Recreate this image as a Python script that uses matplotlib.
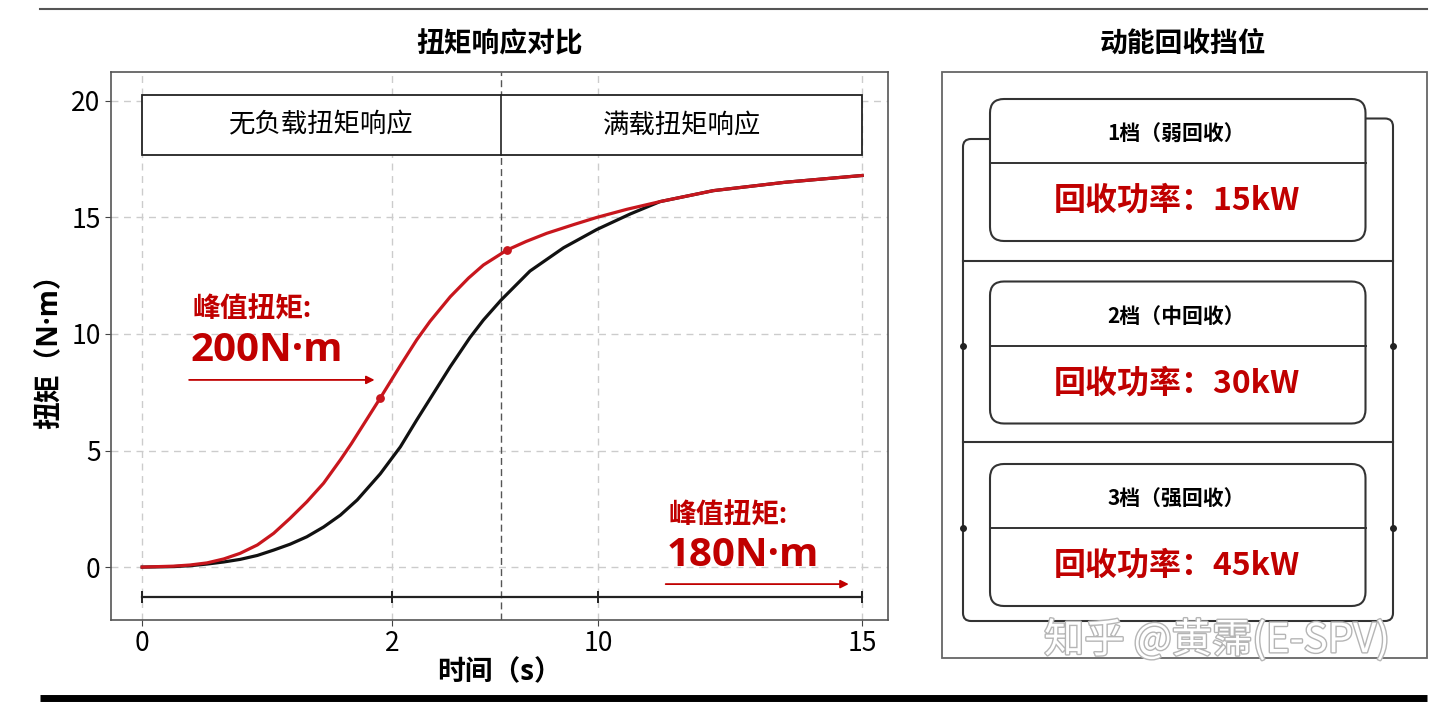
import numpy as np
import matplotlib
matplotlib.use("Agg")
import matplotlib.pyplot as plt
from matplotlib.patches import Rectangle, FancyBboxPatch, PathPatch
from matplotlib.path import Path
import matplotlib.patheffects as pe

plt.rcParams['font.family'] = ['Noto Sans CJK SC', 'DejaVu Sans']
LATIN_FIRST = ['Open Sans', 'Noto Sans CJK SC', 'DejaVu Sans']

RED = '#c00000'
CURVE_RED = '#c8161d'

# torque curves (x in the chart's own axis units)
t_noload = [0, 0.65, 1.0, 1.35, 1.7, 2.04, 2.4, 2.74, 3.08, 3.43, 3.78, 4.13, 4.36,
            4.96, 5.38, 5.72, 6.0, 6.42, 6.8, 7.11, 7.6, 8.0, 8.43, 9.0, 9.47, 10.1,
            10.79, 11.9, 13.4, 15.0]
torque_noload = [0, 0.04, 0.09, 0.18, 0.35, 0.59, 0.95, 1.45, 2.09, 2.80, 3.6, 4.6,
                 5.3, 7.25, 8.65, 9.75, 10.55, 11.6, 12.4, 12.96, 13.6, 13.97, 14.32,
                 14.7, 15.0, 15.35, 15.68, 16.15, 16.51, 16.8]
t_fullload = [0, 0.65, 1.0, 1.35, 1.7, 2.04, 2.4, 2.74, 3.08, 3.43, 3.78, 4.13, 4.48,
              4.96, 5.38, 5.72, 6.42, 6.83, 7.11, 7.48, 8.08, 8.78, 9.47, 10.17,
              10.79, 11.9, 13.4, 15.0]
torque_fullload = [0, 0.02, 0.06, 0.13, 0.22, 0.33, 0.5, 0.73, 0.98, 1.30, 1.72, 2.23,
                   2.88, 4.0, 5.16, 6.31, 8.6, 9.85, 10.6, 11.46, 12.7, 13.7, 14.48,
                   15.15, 15.68, 16.15, 16.51, 16.8]
marker_t = [4.96, 7.6]
marker_y = [7.25, 13.6]

xtick_pos = [0, 5.21, 9.5, 15]
xtick_labels = ['0', '2', '10', '15']
yticks = [0, 5, 10, 15, 20]
split_t = 7.48
header_labels = ['无负载扭矩响应', '满载扭矩响应']

gear_labels = ['1档（弱回收）', '2档（中回收）', '3档（强回收）']
gear_power = [15, 30, 45]

fig = plt.figure(figsize=(14.4, 7.03), dpi=100)

# decoration layer in pixel coordinates
deco = fig.add_axes([0, 0, 1, 1], zorder=0)
deco.set_xlim(0, 1440)
deco.set_ylim(703, 0)
deco.axis('off')
deco.plot([40, 1427], [9, 9], color='#555555', lw=1.5)
deco.plot([40, 1427], [698, 698], color='black', lw=5, solid_capstyle='butt')

# ---- left chart ----
ax = fig.add_axes([111 / 1440, 83 / 703, 777 / 1440, 548 / 703], zorder=2)
ax.set_xlim(-0.65, 15.54)
ax.set_ylim(-2.27, 21.24)

for x in xtick_pos:
    ax.axvline(x, color='#cccccc', lw=1, ls=(0, (5, 4)), zorder=0)
for y in yticks:
    ax.axhline(y, color='#cccccc', lw=1, ls=(0, (5, 4)), zorder=0)
ax.axvline(split_t, color='#555555', lw=1, ls=(0, (5, 3)), zorder=1)

ax.plot(t_fullload, torque_fullload, color='#111111', lw=2.3, zorder=3,
        solid_joinstyle='round')
ax.plot(t_noload, torque_noload, color=CURVE_RED, lw=2.3, zorder=4,
        solid_joinstyle='round')
ax.scatter(marker_t, marker_y, color=CURVE_RED, s=28, zorder=5)

# header table
ax.add_patch(Rectangle((0, 17.68), 15, 2.58, facecolor='white', edgecolor='#222222',
                       lw=1.3, zorder=6))
ax.plot([split_t, split_t], [17.68, 20.26], color='#222222', lw=1.2, zorder=7)
ax.text(split_t / 2, 18.97, header_labels[0], ha='center', va='center', fontsize=19,
        fontweight='medium', zorder=8)
ax.text((split_t + 15) / 2, 18.97, header_labels[1], ha='center', va='center', fontsize=19,
        fontweight='medium', zorder=8)

# time baseline
ax.plot([0, 15], [-1.27, -1.27], color='#222222', lw=1.6, zorder=3)
ax.plot(xtick_pos, [-1.27] * len(xtick_pos), ls='none', marker='|', ms=9,
        mew=1.4, color='#222222', zorder=3)

# annotations
ax.text(1.04, 11.0, '峰值扭矩:', color=RED, fontsize=20, fontweight='bold',
        va='center', family=LATIN_FIRST, zorder=8)
ax.text(1.0, 9.3, '200N·m', color=RED, fontsize=29, fontweight='bold',
        va='center', family=LATIN_FIRST, zorder=8)
ax.annotate('', xy=(4.9, 8.03), xytext=(0.92, 8.03),
            arrowprops=dict(arrowstyle='-|>', color=RED, lw=1.3, mutation_scale=12), zorder=8)
ax.text(10.96, 2.2, '峰值扭矩:', color=RED, fontsize=20, fontweight='bold',
        va='center', family=LATIN_FIRST, zorder=8)
ax.text(10.92, 0.5, '180N·m', color=RED, fontsize=29, fontweight='bold',
        va='center', family=LATIN_FIRST, zorder=8)
ax.annotate('', xy=(14.78, -0.73), xytext=(10.85, -0.73),
            arrowprops=dict(arrowstyle='-|>', color=RED, lw=1.3, mutation_scale=12), zorder=8)

ax.set_xticks(xtick_pos)
ax.set_xticklabels(xtick_labels)
ax.set_yticks(yticks)
ax.tick_params(labelsize=19, length=4, color='#444444')
for s in ax.spines.values():
    s.set_color('#555555')
    s.set_linewidth(1.2)

ax.set_ylabel('扭矩（N·m）', fontsize=20, fontweight='bold', family=LATIN_FIRST)
ax.yaxis.set_label_coords(-0.079, 0.502)
ax.yaxis.label.set_va('center')
ax.set_xlabel('时间（s）', fontsize=20, fontweight='bold', family=LATIN_FIRST)
ax.xaxis.set_label_coords(0.5, -0.097)
ax.xaxis.label.set_va('center')

fig.text(500 / 1440, 1 - 44 / 703, '扭矩响应对比', ha='center', va='center',
         fontsize=20, fontweight='bold')

# ---- right panel: regen levels ----
fig.text(1183 / 1440, 1 - 44 / 703, '动能回收挡位', ha='center', va='center',
         fontsize=20, fontweight='bold')
deco.add_patch(Rectangle((942, 72), 485, 586, facecolor='none', edgecolor='#666666', lw=1.3))

# connector frame behind the boxes
r = 8
lx, rx, ty_l, ty_r, by = 963, 1393, 139, 118.5, 621
verts = [(990, ty_l), (lx + r, ty_l), (lx, ty_l), (lx, ty_l + r), (lx, by - r), (lx, by),
         (lx + r, by), (rx - r, by), (rx, by), (rx, by - r), (rx, ty_r + r), (rx, ty_r),
         (rx - r, ty_r), (1365, ty_r)]
codes = [Path.MOVETO, Path.LINETO, Path.CURVE3, Path.CURVE3, Path.LINETO, Path.CURVE3,
         Path.CURVE3, Path.LINETO, Path.CURVE3, Path.CURVE3, Path.LINETO, Path.CURVE3,
         Path.CURVE3, Path.LINETO]
deco.add_patch(PathPatch(Path(verts, codes), facecolor='none', edgecolor='#333333', lw=1.5))
for yy in [261, 442]:
    deco.plot([lx, rx], [yy, yy], color='#333333', lw=1.5)

box_left, box_w, box_h, head_h, step = 990, 375.5, 142, 64, 182.5
for i, (lab, p) in enumerate(zip(gear_labels, gear_power)):
    top = 99 + i * step
    deco.add_patch(FancyBboxPatch((box_left, top), box_w, box_h,
                                  boxstyle='round,pad=0,rounding_size=14',
                                  facecolor='white', edgecolor='#333333', lw=1.5, zorder=3))
    deco.plot([box_left, box_left + box_w], [top + head_h, top + head_h],
              color='#333333', lw=1.4, zorder=4)
    if i > 0:
        deco.plot([lx, rx], [top + head_h, top + head_h], ls='none', marker='o',
                  ms=4, color='#222222', zorder=4)
    deco.text(1176, top + 35, lab, ha='center', va='center', fontsize=15,
              fontweight='bold', zorder=5)
    deco.text(1177, top + 102, f'回收功率：{p}kW', ha='center', va='center',
              fontsize=23, fontweight='bold', color=RED, zorder=5)

deco.text(1217, 640, '知乎 @黄霈(E-SPV)', ha='center', va='center', fontsize=29,
          color='white', zorder=6,
          path_effects=[pe.withStroke(linewidth=2, foreground='#b5b5b5')])

fig.savefig('out.png', dpi=100)
